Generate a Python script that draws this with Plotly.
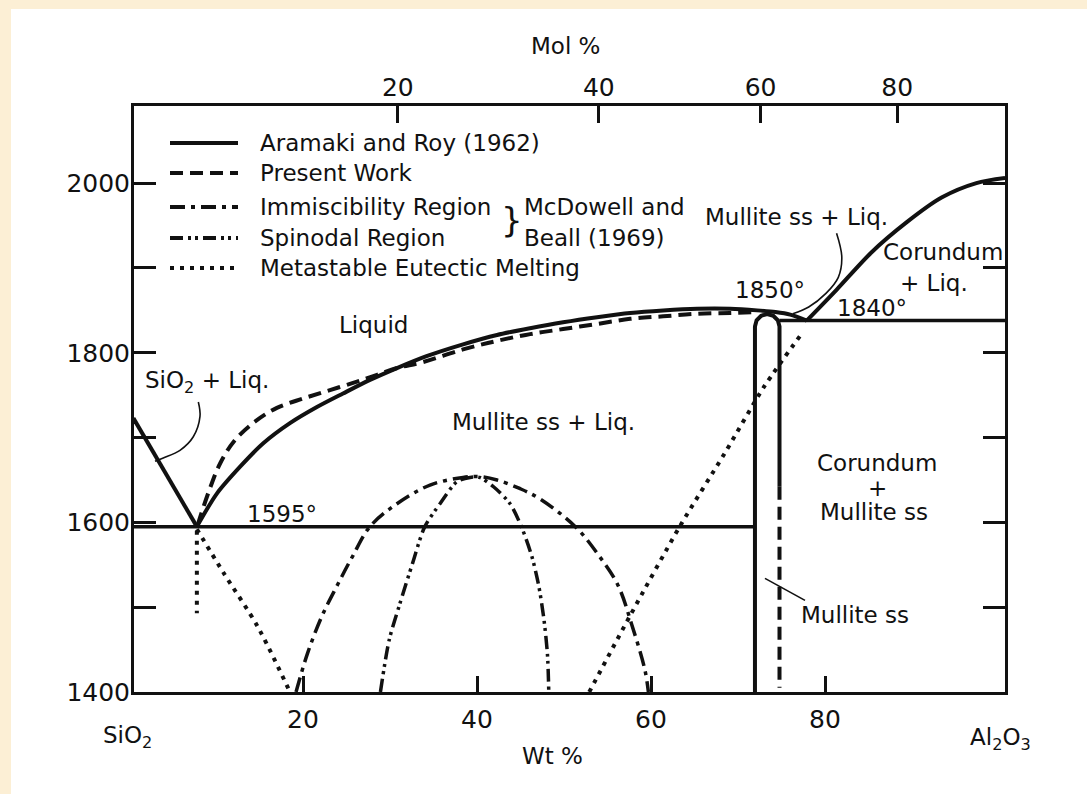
import plotly.graph_objects as go

# ---------------- data (wt % Al2O3, temperature °C) ----------------
sio2_liq_wt = [0.5, 7.8]
sio2_liq_T = [1723, 1595]

ar_liq_wt = [7.8, 10.1, 12.8, 15.4, 18.5, 21.6, 24.6, 27.7, 30.8, 34.2, 38.4, 42.3,
             46.1, 49.9, 53.8, 57.6, 61.4, 65.3, 69.1, 72.2, 74.3, 76.0, 77.9]
ar_liq_T = [1595, 1634, 1666, 1693, 1717, 1736, 1752, 1768, 1782, 1796, 1810, 1821,
            1829, 1836, 1842, 1847, 1850, 1852, 1852, 1850, 1848, 1845, 1838]

cor_liq_wt = [77.9, 81.3, 85.3, 89.4, 93.4, 97.4, 100.7]
cor_liq_T = [1838, 1874, 1918, 1954, 1983, 2000, 2006]

eut1595_wt = [0.5, 71.95]
eut1595_T = [1595, 1595]
eut1840_wt = [74.77, 100.7]
eut1840_T = [1838, 1838]

mullite_ss_wt = [71.95, 71.95, 72.14, 72.66, 73.36, 74.06, 74.58, 74.77, 74.77]
mullite_ss_T = [1400, 1831, 1838.4, 1843.7, 1845.7, 1843.7, 1838.4, 1831, 1642]

pw_liq_wt = [7.9, 8.3, 9.3, 10.5, 12.1, 14.5, 17.0, 20.0, 23.1, 26.2, 28.5, 30.8,
             33.8, 38.4, 42.3, 46.1, 49.9, 53.8, 57.6, 61.4, 65.3, 69.1, 72.2]
pw_liq_T = [1597, 1610, 1640, 1670, 1696, 1719, 1735, 1746, 1756, 1766, 1774, 1782,
            1789, 1804, 1814, 1822, 1828, 1834, 1840, 1843, 1846, 1847, 1848]
pw_ss_wt = [74.77, 74.77]
pw_ss_T = [1642, 1405]

immisc_wt = [19.2, 20.5, 22.2, 24.0, 25.7, 27.7, 30.8, 34.6, 38.4, 40.3, 42.3, 44.9,
             47.2, 51.3, 54.0, 56.2, 57.8, 59.3, 59.7]
immisc_T = [1400, 1445, 1490, 1527, 1560, 1595, 1622, 1644, 1653, 1654, 1650, 1640,
            1628, 1595, 1561, 1526, 1479, 1426, 1400]

spin_wt = [28.9, 29.9, 31.1, 32.6, 34.0, 35.75, 37.7, 39.2, 40.3, 41.9, 43.8, 45.1,
           46.3, 47.1, 47.7, 48.1, 48.25]
spin_T = [1400, 1461, 1503, 1552, 1595, 1622, 1648, 1653, 1653, 1642, 1622, 1595,
          1560, 1525, 1485, 1444, 1400]

meta_a_wt = [7.8, 7.8]
meta_a_T = [1590, 1493]
meta_b_wt = [7.8, 10.9, 14.8, 18.5]
meta_b_T = [1592, 1540, 1477, 1400]
meta_c_wt = [52.9, 57.6, 63.3, 68.5, 73.0, 77.5]
meta_c_T = [1400, 1490, 1595, 1682, 1760, 1825]

# leader lines for labels
lead_sio2_wt = [7.97, 8.16, 7.39, 5.86, 3.94, 2.99]
lead_sio2_T = [1742, 1725, 1701, 1685, 1676, 1672]
lead_mliq_wt = [81.33, 81.93, 81.53, 80.11, 78.13, 76.3]
lead_mliq_T = [1941, 1913, 1889, 1870, 1854, 1846]
lead_mss_wt = [73.1, 77.7]
lead_mss_T = [1534, 1508]

# axes
wt_ticks = [20, 40, 60, 80]
mol_tick_labels = ["20", "40", "60", "80"]
mol_tick_wt = [30.9, 54.0, 72.6, 88.3]
T_major = [1400, 1600, 1800, 2000]
T_minor = [1500, 1700, 1900]

legend_names = ["Aramaki and Roy (1962)", "Present Work", "Immiscibility Region",
                "Spinodal Region", "Metastable Eutectic Melting"]
legend_ref_lines = ["McDowell and", "Beall (1969)"]

# ---------------- styling ----------------
FONT = "DejaVu Sans"
INK = "#111111"
BEIGE = "#FCEFD5"
W, H = 1087, 794
ML, MR, MT, MB = 134, 82, 106, 102
PW, PH = W - ML - MR, H - MT - MB
FS = 23
TFS = 25

DASH_SOLID = "solid"
DASH_PW = "13px,7px"
DASH_IMM = "15px,6px,4px,6px"
DASH_SPIN = "13px,5px,3px,4px,3px,5px"
DASH_DOT = "4px,6px"


def pxx(x):
    return (x - ML) / PW


def pxy(y):
    return (H - MB - y) / PH


fig = go.Figure()


def add_line(x, y, dash, width=4.0, shape="linear", smoothing=0.8):
    fig.add_trace(go.Scatter(x=x, y=y, mode="lines",
                             line=dict(color=INK, width=width, dash=dash, shape=shape,
                                       smoothing=smoothing),
                             showlegend=False, hoverinfo="skip"))


add_line(sio2_liq_wt, sio2_liq_T, DASH_SOLID)
add_line(ar_liq_wt, ar_liq_T, DASH_SOLID, 4.0, "spline")
add_line(cor_liq_wt, cor_liq_T, DASH_SOLID, 4.0, "spline")
add_line(eut1595_wt, eut1595_T, DASH_SOLID, 3.5)
add_line(eut1840_wt, eut1840_T, DASH_SOLID, 3.5)
add_line(mullite_ss_wt, mullite_ss_T, DASH_SOLID, 4.0)
add_line(pw_liq_wt, pw_liq_T, DASH_PW, 4.0, "spline", 1.0)
add_line(pw_ss_wt, pw_ss_T, DASH_PW)
add_line(immisc_wt, immisc_T, DASH_IMM, 3.5, "spline", 1.0)
add_line(spin_wt, spin_T, DASH_SPIN, 3.5, "spline")
add_line(meta_a_wt, meta_a_T, DASH_DOT, 4)
add_line(meta_b_wt, meta_b_T, DASH_DOT, 4, "spline")
add_line(meta_c_wt, meta_c_T, DASH_DOT, 4, "spline")
for lx, ly in [(lead_sio2_wt, lead_sio2_T), (lead_mliq_wt, lead_mliq_T), (lead_mss_wt, lead_mss_T)]:
    fig.add_trace(go.Scatter(x=lx, y=ly, mode="lines",
                             line=dict(color=INK, width=1.6, shape="spline"),
                             showlegend=False, hoverinfo="skip"))
# empty trace to activate the top (mol %) axis
fig.add_trace(go.Scatter(x=[], y=[], xaxis="x2", showlegend=False, hoverinfo="skip"))

shapes = [dict(type="rect", xref="paper", yref="paper", layer="below",
               x0=pxx(11), x1=pxx(W + 5), y0=pxy(H + 5), y1=pxy(9),
               fillcolor="white", line=dict(width=0))]

# manual legend
leg_rows = [143, 173, 207, 238, 268]
leg_dashes = [DASH_SOLID, DASH_PW, DASH_IMM, DASH_SPIN, DASH_DOT]
annotations = []
for name, dash, ry in zip(legend_names, leg_dashes, leg_rows):
    shapes.append(dict(type="line", xref="paper", yref="paper",
                       x0=pxx(170), x1=pxx(238), y0=pxy(ry), y1=pxy(ry),
                       line=dict(color=INK, width=4, dash=dash)))
    annotations.append(dict(text=name, xref="paper", yref="paper", x=pxx(258), y=pxy(ry),
                            xanchor="left", yanchor="middle", showarrow=False,
                            font=dict(size=FS, color=INK, family=FONT)))
annotations.append(dict(text="}", xref="paper", yref="paper", x=pxx(512), y=pxy(220),
                        xanchor="center", yanchor="middle", showarrow=False,
                        font=dict(size=34, color=INK, family="Liberation Sans Narrow, " + FONT)))
for txt, ry in zip(legend_ref_lines, [leg_rows[2], leg_rows[3]]):
    annotations.append(dict(text=txt, xref="paper", yref="paper",
                            x=pxx(522), y=pxy(ry), xanchor="left", yanchor="middle",
                            showarrow=False, font=dict(size=FS, color=INK, family=FONT)))

# outer labels
for txt, x, y in [("Mol %", 565, 46), ("Wt %", 552, 756), ("SiO<sub>2</sub>", 127, 737),
                  ("Al<sub>2</sub>O<sub>3</sub>", 1000, 739)]:
    annotations.append(dict(text=txt, xref="paper", yref="paper", x=pxx(x), y=pxy(y),
                            xanchor="center", yanchor="middle", showarrow=False,
                            font=dict(size=FS, color=INK, family=FONT)))

# in-plot region labels (data coordinates)
region_labels = [
    ("Liquid", 28.05, 1833),
    ("Mullite ss + Liq.", 76.7, 1960),
    ("Corundum", 93.6, 1919),
    ("+ Liq.", 92.5, 1882),
    ("1850°", 73.7, 1874),
    ("1840°", 85.4, 1853),
    ("SiO<sub>2</sub> + Liq.", 9.0, 1765),
    ("Mullite ss + Liq.", 47.6, 1718),
    ("1595°", 17.6, 1610),
    ("Corundum", 86.0, 1670),
    ("+", 86.0, 1641),
    ("Mullite ss", 85.6, 1612),
    ("Mullite ss", 83.4, 1491),
]
for txt, x, y in region_labels:
    annotations.append(dict(text=txt, x=x, y=y, xref="x", yref="y", xanchor="center",
                            yanchor="middle", showarrow=False,
                            font=dict(size=FS, color=INK, family=FONT)))

axis_common = dict(showgrid=False, zeroline=False, showline=True, linecolor=INK,
                   linewidth=3, ticks="inside", tickcolor=INK, tickwidth=2.5,
                   tickfont=dict(size=TFS, color=INK, family=FONT))

fig.update_layout(
    width=W, height=H,
    margin=dict(l=ML, r=MR, t=MT, b=MB, pad=0),
    paper_bgcolor=BEIGE, plot_bgcolor="white",
    showlegend=False,
    font=dict(family=FONT, color=INK),
    xaxis=dict(range=[0.575, 100.69], tickvals=wt_ticks, ticklen=16, mirror=True,
               ticklabelstandoff=3, **axis_common),
    xaxis2=dict(range=[0.575, 100.69], overlaying="x", side="top", anchor="y",
                tickvals=mol_tick_wt, ticktext=mol_tick_labels, ticklen=17,
                ticklabelstandoff=-3, **axis_common),
    yaxis=dict(range=[1400, 2091], tickvals=T_major, ticklen=22,
               mirror="ticks", ticklabelstandoff=-4,
               minor=dict(tickvals=T_minor, ticks="inside", ticklen=22, tickwidth=2.5,
                          tickcolor=INK, showgrid=False),
               **axis_common),
    shapes=shapes,
    annotations=annotations,
)

fig.write_html("out.html")
